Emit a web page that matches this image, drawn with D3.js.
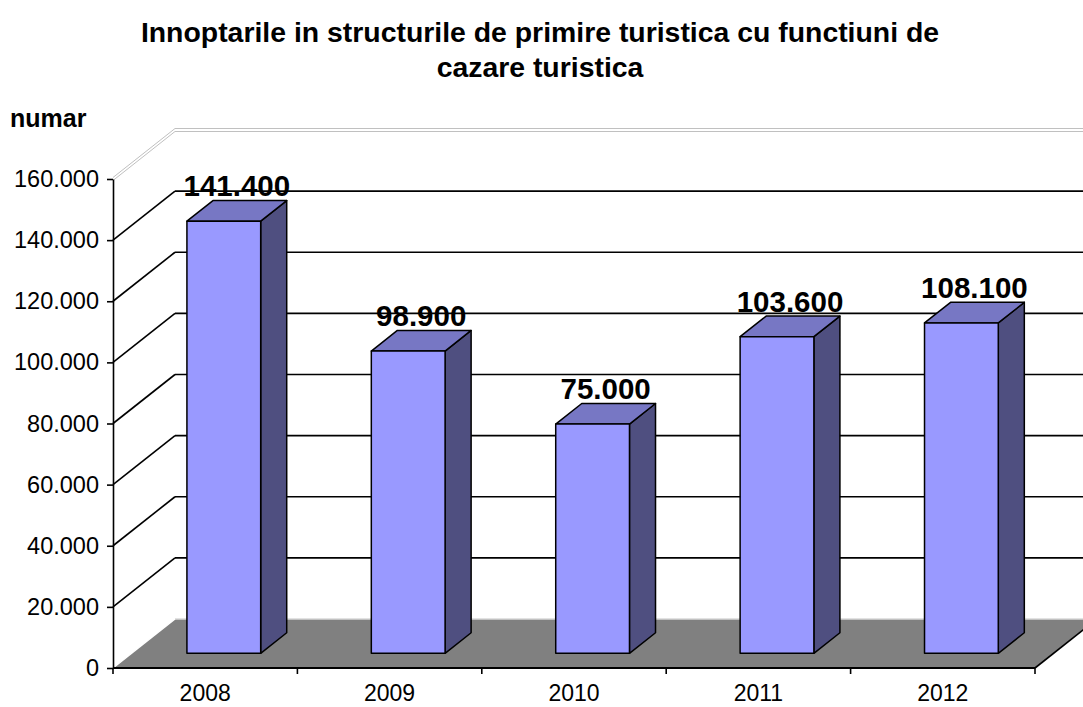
<!DOCTYPE html>
<html>
<head>
<meta charset="utf-8">
<script src="https://cdn.jsdelivr.net/npm/d3@7"></script>
<style>
  html, body { margin: 0; padding: 0; background: #fff; }
  svg { display: block; font-family: Arial, "Liberation Sans", sans-serif; }
</style>
</head>
<body>
<svg id="chart" width="1083" height="707"></svg>
<script>
// ---- data ----
const titleLines = ["Innoptarile in structurile de primire turistica cu functiuni de", "cazare turistica"];
const yAxisTitle = "numar";
const years = ["2008", "2009", "2010", "2011", "2012"];
const values = [141400, 98900, 75000, 103600, 108100];
const yTicks = [0, 20000, 40000, 60000, 80000, 100000, 120000, 140000, 160000];

// ---- layout ----
const W = 1083, H = 707;
const plotL = 113, plotR = 1035, plotB = 668, plotT = 179;
const DX = 62, DY = 49;          // depth projection of the full floor
const d0 = 0.3, d1 = 0.72;       // bar depth range (fraction)

const svg = d3.select("#chart");
const loc = d3.formatLocale({ decimal: ",", thousands: ".", grouping: [3], currency: ["", ""] });
const fmt = loc.format(",d");

const x = d3.scaleBand().domain(years).range([plotL, plotR]).padding(0);
const y = d3.scaleLinear().domain([0, 160000]).range([plotB, plotT]);
const barW = x.bandwidth() / 2.5;

const P = (px, py, d) => [px + d * DX, py - d * DY];

const g = svg.append("g");

// back wall gridlines
const backR = plotR + DX;
yTicks.filter(v => v > 0 && v < 160000).forEach(v => {
  const yb = y(v) - DY;
  g.append("line").attr("x1", plotL + DX).attr("x2", backR).attr("y1", yb).attr("y2", yb)
    .attr("stroke", "#000").attr("stroke-width", 1.6);
  g.append("line").attr("x1", plotL).attr("y1", y(v)).attr("x2", plotL + DX).attr("y2", yb)
    .attr("stroke", "#000").attr("stroke-width", 1.6);
});
// top (max) gridline: gray double line
[-1.5, 1.5].forEach(o => {
  const v = 160000, yb = y(v) - DY;
  g.append("line").attr("x1", plotL + DX).attr("x2", backR).attr("y1", yb + o).attr("y2", yb + o)
    .attr("stroke", "#c0c0c0").attr("stroke-width", 1);
  g.append("line").attr("x1", plotL).attr("y1", y(v) + o).attr("x2", plotL + DX).attr("y2", yb + o)
    .attr("stroke", "#c0c0c0").attr("stroke-width", 1);
});

// floor
const fl = [[plotL, plotB], [plotR, plotB], P(plotR, plotB, 1), P(plotL, plotB, 1)];
g.append("polygon").attr("points", fl.map(p => p.join(",")).join(" "))
  .attr("fill", "#808080");
g.append("line").attr("x1", fl[3][0]).attr("y1", fl[3][1]).attr("x2", fl[2][0]).attr("y2", fl[2][1])
  .attr("stroke", "#d9d9d9").attr("stroke-width", 1.5);
g.append("line").attr("x1", fl[0][0]).attr("y1", fl[0][1]).attr("x2", fl[3][0]).attr("y2", fl[3][1])
  .attr("stroke", "#ffffff").attr("stroke-width", 1.5);
g.append("line").attr("x1", fl[1][0]).attr("y1", fl[1][1]).attr("x2", fl[2][0]).attr("y2", fl[2][1])
  .attr("stroke", "#000").attr("stroke-width", 1.6);

// bars
const barData = years.map((yr, i) => ({ yr, v: values[i] }));
const bars = g.selectAll("g.bar").data(barData).join("g").attr("class", "bar");
bars.each(function (d) {
  const gb = d3.select(this);
  const cx = x(d.yr) + x.bandwidth() / 2;
  const xl = cx - barW / 2, xr = cx + barW / 2;
  const yt = y(d.v), yb = y(0);
  const fA = P(xl, yt, d0), fB = P(xr, yt, d0), fC = P(xr, yb, d0), fD = P(xl, yb, d0);
  const bB = P(xr, yt, d1), bA = P(xl, yt, d1), bC = P(xr, yb, d1);
  const poly = (pts, fill) => gb.append("polygon").attr("points", pts.map(p => p.join(",")).join(" "))
    .attr("fill", fill).attr("stroke", "#000").attr("stroke-width", 1.5).attr("stroke-linejoin", "round");
  poly([fB, bB, bC, fC], "#4f4f80");
  poly([fA, bA, bB, fB], "#7777c4");
  poly([fA, fB, fC, fD], "#9999ff");
  d.lx = (fA[0] + bB[0]) / 2;
  d.ly = fA[1] - 25;
});

// data labels
g.selectAll("text.lbl").data(barData).join("text").attr("class", "lbl")
  .attr("x", d => d.lx).attr("y", d => d.ly)
  .attr("text-anchor", "middle").attr("font-weight", "bold").attr("font-size", 29.5)
  .text(d => fmt(d.v));

// y axis
const yAxis = d3.axisLeft(y).tickValues(yTicks).tickFormat(fmt).tickSize(6).tickSizeOuter(0).tickPadding(8);
const ya = svg.append("g").attr("transform", `translate(${plotL},0)`).call(yAxis);
ya.select(".domain").attr("stroke", "#000").attr("stroke-width", 1.6);
ya.selectAll(".tick line").attr("stroke", "#000").attr("stroke-width", 1.6);
ya.selectAll(".tick text").attr("font-size", 23.5).attr("fill", "#000").attr("font-family", 'Arial, "Liberation Sans", sans-serif');

// x axis
svg.append("line").attr("x1", plotL).attr("x2", plotR).attr("y1", plotB).attr("y2", plotB)
  .attr("stroke", "#000").attr("stroke-width", 2);
const bounds = years.map(yr => x(yr)).concat([plotR]);
svg.selectAll("line.xt").data(bounds).join("line").attr("class", "xt")
  .attr("x1", d => d).attr("x2", d => d).attr("y1", plotB).attr("y2", plotB + 6)
  .attr("stroke", "#000").attr("stroke-width", 1.6);
svg.selectAll("text.xl").data(years).join("text").attr("class", "xl")
  .attr("x", d => x(d) + x.bandwidth() / 2).attr("y", 701)
  .attr("text-anchor", "middle").attr("font-size", 23).text(d => d);

// titles
svg.selectAll("text.title").data(titleLines).join("text").attr("class", "title")
  .attr("x", 540).attr("y", (d, i) => 42 + i * 35)
  .attr("text-anchor", "middle").attr("font-weight", "bold").attr("font-size", 28.4).text(d => d);
svg.append("text").attr("x", 10).attr("y", 127).attr("font-weight", "bold").attr("font-size", 25).text(yAxisTitle);
</script>
</body>
</html>
